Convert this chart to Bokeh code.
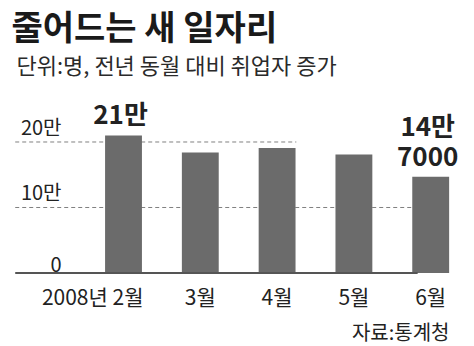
from bokeh.plotting import figure
from bokeh.models import Range1d, Label
from bokeh.core.properties import value
from bokeh.embed import file_html
from bokeh.resources import INLINE

# ---- data ----
months = ["2월", "3월", "4월", "5월", "6월"]
x_labels = ["2008년 2월", "3월", "4월", "5월", "6월"]
values = [21.0, 18.4, 19.1, 18.1, 14.7]          # 단위: 만 명
value_labels = ["21만", "", "", "", "14만\n7000"]
y_ticks = [0, 10, 20]
y_tick_labels = ["0", "10만", "20만"]
title_text = "줄어드는 새 일자리"
subtitle_text = "단위:명, 전년 동월 대비 취업자 증가"
source_text = "자료:통계청"

FONT = "'Noto Sans CJK KR', sans-serif"
TXT = "#222222"
BAR = "#6b6b6b"

W, H = 474, 346
xs = list(range(len(months)))

p = figure(width=W, height=H, output_backend="svg", toolbar_location=None,
           min_border=0, x_range=Range1d(-1.6016, 4.5703),
           y_range=Range1d(-11.22, 41.6))
p.axis.visible = False
p.grid.visible = False
p.outline_line_color = None
p.background_fill_color = "white"
p.border_fill_color = "white"

x_lo = xs[0] - 1.41
x_hi = xs[-1] - 0.17
x_hi20 = xs[-2] - 0.75

# dashed guide lines
p.segment(x0=[x_lo], x1=[x_hi], y0=[y_ticks[1]], y1=[y_ticks[1]],
          line_color="#808080", line_width=1, line_dash="4 3")
p.segment(x0=[x_lo], x1=[x_hi20], y0=[y_ticks[2]], y1=[y_ticks[2]],
          line_color="#808080", line_width=1, line_dash="4 3")

# bars
p.vbar(x=xs, top=values, bottom=0, width=0.48, fill_color=BAR, line_color=None)

# baseline
p.segment(x0=[x_lo], x1=[x_hi], y0=[0], y1=[0], line_color="#555555", line_width=2)

# y tick labels
p.text(x=[p.x_range.start] * 3, y=y_ticks, text=y_tick_labels, x_offset=61, y_offset=-1,
       text_align="right", text_baseline="bottom", text_font=value(FONT),
       text_font_size="20px", text_color=TXT)

# x labels
p.text(x=xs[:1], y=[0], text=x_labels[:1], x_offset=20, y_offset=8,
       text_align="right", text_baseline="top", text_font=value(FONT),
       text_font_size="21px", text_color=TXT)
p.text(x=xs[1:], y=[0] * 4, text=x_labels[1:], y_offset=8,
       text_align="center", text_baseline="top", text_font=value(FONT),
       text_font_size="21px", text_color=TXT)

# value labels
p.text(x=xs, y=values, text=value_labels, y_offset=-4, x_offset=-3,
       text_align="center", text_baseline="bottom", text_font=value(FONT),
       text_font_size="26px", text_font_style="bold", text_color=TXT,
       text_line_height=0.8)

# titles
p.add_layout(Label(x=11, y=H, x_units="screen", y_units="screen", text=title_text,
                   text_font=FONT, text_font_size="34px", text_font_style="bold",
                   text_color="#1a1a1a", text_baseline="top"))
p.add_layout(Label(x=16, y=H - 79, x_units="screen", y_units="screen", text=subtitle_text,
                   text_font=FONT, text_font_size="22px",
                   text_color="#2a2a2a", text_baseline="bottom"))
p.add_layout(Label(x=449, y=1, x_units="screen", y_units="screen", text=source_text,
                   text_font=FONT, text_font_size="20px", text_align="right",
                   text_color=TXT, text_baseline="bottom"))

open("out.html", "w").write(file_html(p, INLINE))
